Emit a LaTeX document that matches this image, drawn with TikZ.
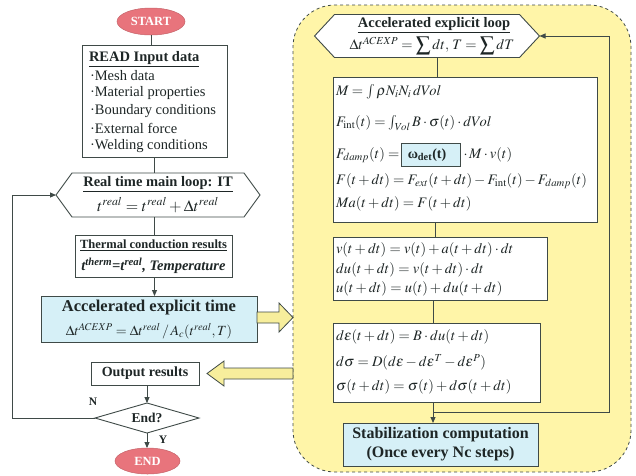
\documentclass[tikz,border=0pt]{standalone}
\usepackage{mathptmx}
\usepackage[no-math]{fontspec}
\setmainfont{Liberation Serif}
\usetikzlibrary{arrows.meta,shapes.geometric}
\definecolor{ln}{HTML}{3F4A47}
\definecolor{ylw}{HTML}{FFF5A8}
\definecolor{yarr}{HTML}{F7EE9C}
\definecolor{lblue}{HTML}{D6F0F7}
\definecolor{pinkc}{HTML}{E8747C}
\definecolor{txt}{HTML}{1E2626}
\begin{document}
\begin{tikzpicture}[x=1pt,y=-1pt,
  every node/.style={text=txt, inner sep=0pt, outer sep=0pt},
  line/.style={draw=ln, line width=0.9pt},
  arr/.style={line, -{Triangle[length=6pt,width=5pt]}},
  box/.style={rectangle, draw=ln, line width=0.9pt, fill=white},
  bluebox/.style={box, fill=lblue},
  oval/.style={ellipse, fill=pinkc, draw=pinkc!85!black, line width=0.5pt, text=white, font=\fontsize{12.5}{14}\selectfont\bfseries},
  hd/.style={font=\fontsize{14.5}{16}\selectfont\bfseries},
  tx/.style={font=\fontsize{14.5}{16}\selectfont, anchor=west},
  mth/.style={font=\fontsize{14.5}{17}\selectfont, anchor=west},
  hexshape/.style={line, fill=white},
  blockarr/.style={draw=ln, line width=0.8pt, fill=yarr},
  region/.style={rectangle, draw=ln, dashed, line width=0.8pt, fill=ylw, rounded corners=42pt}
]
\useasboundingbox (0,0) rectangle (636,475);

% ---------- right region ----------
\node[region, minimum width=338, minimum height=467] (loop) at (462,238.5) {};

% ---------- left column ----------
\node[oval, minimum width=68, minimum height=27] (start) at (151,21.5) {START};
\node[box, minimum width=145, minimum height=112] (read) at (154.5,101) {};
\node[hd, anchor=west] (readh) at (89,59) {\underline{READ Input data}};
\node[tx] (r1) at (90,76) {·Mesh data};
\node[tx] (r2) at (90,93.5) {·Material properties};
\node[tx] (r3) at (90,111) {·Boundary conditions};
\node[tx] (r4) at (90,128.5) {·External force};
\node[tx] (r5) at (90,146) {·Welding conditions};

\node[minimum width=204, minimum height=44] (hexL) at (158,195) {};
\draw[hexshape] (hexL.west) -- ([xshift=16pt]hexL.north west) -- ([xshift=-16pt]hexL.north east) -- (hexL.east) -- ([xshift=-16pt]hexL.south east) -- ([xshift=16pt]hexL.south west) -- cycle;
\node[hd] (hexLh) at (158,184) {\underline{Real time main loop: IT}};
\node[font=\fontsize{16}{18}\selectfont] (hexLf) at (158,205) {$t^{real}=t^{real}+\Delta t^{real}$};

\node[box, minimum width=157, minimum height=42] (therm) at (153.5,256) {};
\node[font=\fontsize{12.5}{14}\selectfont\bfseries] (thermh) at (153.5,245) {\underline{Thermal conduction results}};
\node[font=\fontsize{14.5}{16}\selectfont\bfseries\itshape] (thermf) at (153.5,266) {t\textsuperscript{therm}=t\textsuperscript{real}, Temperature};

\node[bluebox, minimum width=216, minimum height=46] (accel) at (149,319) {};
\node[font=\fontsize{16.5}{18}\selectfont\bfseries] (accelh) at (149,308) {Accelerated explicit time};
\node[font=\fontsize{14}{16}\selectfont] (accelf) at (149,331) {$\Delta t^{ACEXP}=\Delta t^{real}\,/\,A_c(t^{real},T)$};

\node[box, minimum width=108, minimum height=23, font=\fontsize{14}{15}\selectfont\bfseries] (out) at (145,373.5) {Output results};
\node[diamond, draw=ln, line width=0.9pt, fill=white, minimum width=104, minimum height=30, aspect=3.4, font=\fontsize{13.5}{14}\selectfont\bfseries] (endq) at (147,418) {End?};
\node[oval, minimum width=65, minimum height=26] (stop) at (147.5,461) {END};
\node[font=\fontsize{11.5}{13}\selectfont\bfseries] (nlab) at (93,402) {N};
\node[font=\fontsize{11.5}{13}\selectfont\bfseries] (ylab) at (163,440) {Y};

\draw[line] (start.south) -- (start.south |- read.north);
\draw[line] (read.south) -- (read.south |- hexL.north);
\draw[line] (hexL.south -| read.south) -- (read.south |- therm.north);
\draw[arr] (therm.south -| read.south) -- (read.south |- accel.north);
\draw[arr] (out.south -| endq.north) -- (endq.north);
\draw[arr] (endq.south) -- (endq.south |- stop.north);
\coordinate (lc) at (12,418);
\draw[arr] (endq.west) -- (lc) |- (hexL.west);

% block arrows
\draw[blockarr] (257,312) -- (279,312) -- (279,303) -- (293,317.5) -- (279,332) -- (279,323) -- (257,323) -- cycle;
\draw[blockarr] (293,368) -- (224,368) -- (224,361) -- (207,373.5) -- (224,386) -- (224,379) -- (293,379) -- cycle;

% ---------- right column ----------
\node[minimum width=225, minimum height=43] (hexR) at (427,36) {};
\draw[hexshape] (hexR.west) -- ([xshift=20pt]hexR.north west) -- ([xshift=-20pt]hexR.north east) -- (hexR.east) -- ([xshift=-20pt]hexR.south east) -- ([xshift=20pt]hexR.south west) -- cycle;
\node[hd] (hexRh) at (434,25) {\underline{Accelerated explicit loop}};
\node[font=\fontsize{14.5}{16}\selectfont] (hexRf) at (432,46) {$\Delta t^{ACEXP}=\displaystyle\sum dt,\,T=\sum dT$};

\node[box, minimum width=264, minimum height=145] (b1) at (465,149.5) {};
\node[mth] (m1) at (336,92) {$M=\int\rho N_iN_i\,dVol$};
\node[mth] (m2) at (336,123) {$F_{\mathrm{int}}(t)=\int_{Vol}B\cdot\sigma(t)\cdot dVol$};
\node[mth] (m3a) at (336,155) {$F_{damp}(t)=$};
\node[bluebox, minimum width=59, minimum height=23, font=\fontsize{14}{15}\selectfont\bfseries, anchor=west] (om) at ([xshift=2pt]m3a.east) {ω\textsubscript{det}(t)\hspace*{8pt}};
\node[mth] (m3b) at ([xshift=3pt]om.east) {$\cdot\, M\cdot v(t)$};
\node[mth] (m4) at (336,181) {$F(t+dt)=F_{ext}(t+dt)-F_{\mathrm{int}}(t)-F_{damp}(t)$};
\node[mth] (m5) at (336,204) {$Ma(t+dt)=F(t+dt)$};

\node[box, minimum width=214, minimum height=63] (b2) at (440,268.5) {};
\node[mth] (v1) at (336,250) {$v(t+dt)=v(t)+a(t+dt)\cdot dt$};
\node[mth] (v2) at (336,269.5) {$du(t+dt)=v(t+dt)\cdot dt$};
\node[mth] (v3) at (336,289) {$u(t+dt)=u(t)+du(t+dt)$};

\node[box, minimum width=207, minimum height=79] (b3) at (436.5,362.5) {};
\node[mth] (s1) at (336,337) {$d\varepsilon(t+dt)=B\cdot du(t+dt)$};
\node[mth] (s2) at (336,362) {$d\sigma=D(d\varepsilon-d\varepsilon^{T}-d\varepsilon^{P})$};
\node[mth] (s3) at (336,387) {$\sigma(t+dt)=\sigma(t)+d\sigma(t+dt)$};

\node[bluebox, minimum width=195, minimum height=43, align=center, font=\fontsize{16}{19}\selectfont\bfseries] (stab) at (440.5,444.5) {Stabilization computation\\(Once every Nc steps)};

\draw[line] (437,57.5) -- (437,77);
\draw[line] (435,222) -- (435,237);
\draw[line] (433,300) -- (433,323);
\coordinate (bj) at (433,412);
\coordinate (rc) at (609,412);
\draw[arr] (433,402) -- (433,423);
\draw[arr] (bj) -- (rc) |- (hexR.east);
\end{tikzpicture}
\end{document}
